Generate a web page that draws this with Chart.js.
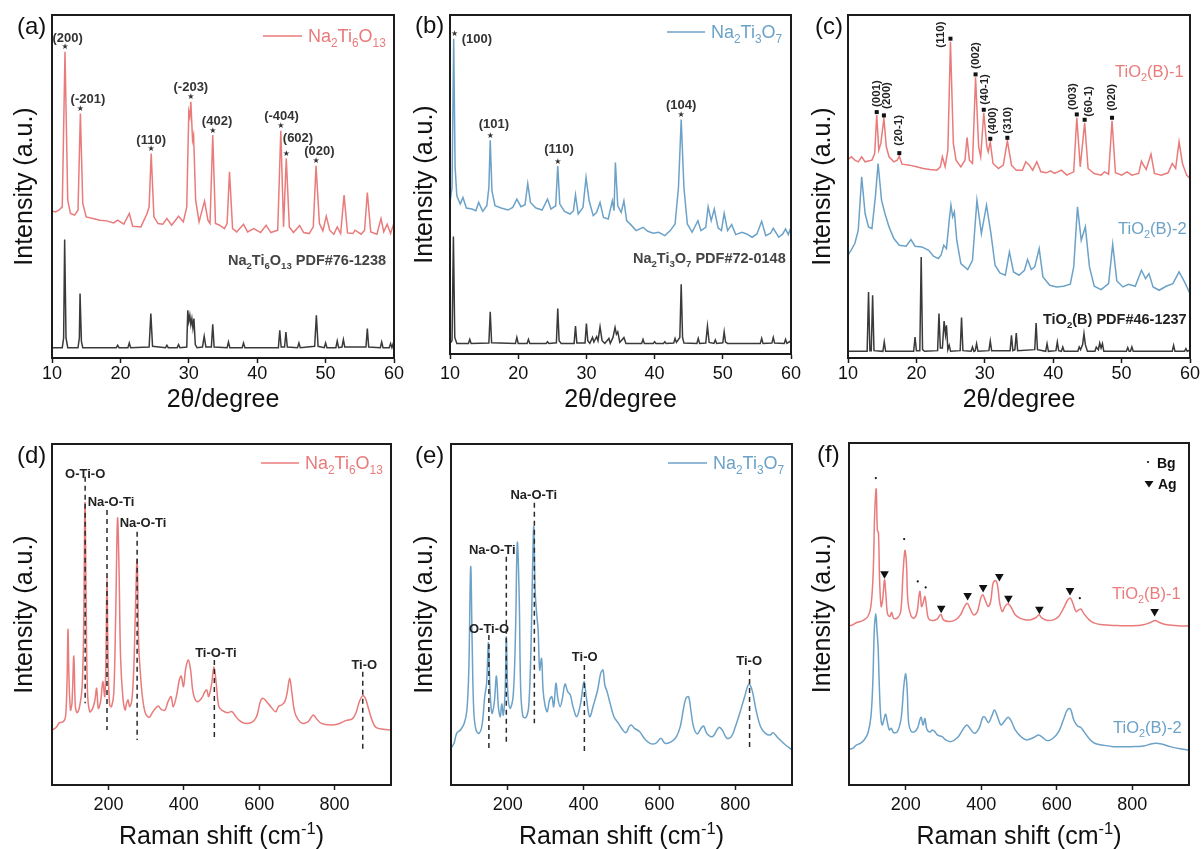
<!DOCTYPE html>
<html><head><meta charset="utf-8">
<script src="https://cdn.jsdelivr.net/npm/chart.js@4.4.1/dist/chart.umd.min.js"></script>
<style>
html,body{margin:0;padding:0;background:#fff;}
body{width:1201px;height:849px;position:relative;overflow:hidden;}
canvas{position:absolute;}
</style></head><body>
<canvas id="ca"></canvas><canvas id="cb"></canvas><canvas id="cc"></canvas>
<canvas id="cd"></canvas><canvas id="ce"></canvas><canvas id="cf"></canvas>
<script>
// ---------------- DATA ----------------
const xrdTicks = [10,20,30,40,50,60];
const ramanTicks = [200,400,600,800];

// (a) Na2Ti6O13 XRD
const xrdA_sample = [[10,441],[10.5,438],[11,443],[11.5,453],[11.9,918],[12.3,473],[12.7,433],[13.3,428],[13.8,443],[14.15,733],[14.5,463],[15,423],[16,418],[17,413],[18,411],[19,405],[19.6,413],[20.5,401],[21.3,433],[21.8,395],[23,393],[23.9,433],[24.2,453],[24.5,613],[24.9,423],[25.5,403],[26.2,401],[26.8,418],[27.5,398],[28.5,425],[29.2,408],[29.7,453],[30,738],[30.15,723],[30.3,768],[30.55,653],[30.7,668],[31,473],[31.5,408],[32.3,470],[32.8,413],[33.1,403],[33.5,668],[33.9,403],[34.5,398],[35.2,388],[35.6,403],[35.95,558],[36.4,388],[37,378],[38,401],[38.6,378],[39.5,388],[40.5,376],[41.3,398],[42,376],[43,383],[43.45,681],[43.85,393],[44.25,598],[44.7,393],[45.3,376],[46.2,397],[46.8,376],[47.6,373],[48.2,393],[48.6,576],[49.1,403],[49.6,381],[50.1,425],[50.6,383],[51.2,371],[51.7,393],[52.2,373],[52.7,488],[53.2,375],[54,373],[54.3,383],[55.2,371],[55.7,383],[56.1,496],[56.6,378],[57.5,371],[58.1,418],[58.5,378],[59,401],[59.5,373],[60,405]];
const xrdA_ref = [[10,31],[11.5,31],[11.7,60],[11.85,355],[12.05,60],[12.3,31],[13.8,31],[14,60],[14.1,193],[14.3,50],[14.5,31],[19.4,31],[19.6,38],[19.8,31],[21.1,31],[21.3,45],[21.5,31],[24.2,33],[24.45,133],[24.7,35],[26.6,31],[26.8,38],[27,31],[28.3,31],[28.5,40],[28.7,31],[29.7,33],[29.85,143],[30,110],[30.15,128],[30.3,100],[30.45,118],[30.6,90],[30.75,118],[30.95,40],[31.2,31],[32,33],[32.25,65],[32.5,33],[33.3,33],[33.5,101],[33.7,33],[35.6,31],[35.8,48],[36,31],[37.8,31],[38,45],[38.2,31],[43.1,31],[43.3,83],[43.5,33],[44,33],[44.2,78],[44.4,33],[45.9,31],[46.1,45],[46.3,31],[48.4,35],[48.65,128],[48.9,35],[49.8,31],[50,45],[50.2,31],[51.5,31],[51.7,51],[51.9,31],[52.4,33],[52.6,55],[52.8,33],[55.9,33],[56.1,88],[56.3,33],[58,31],[58.2,48],[58.4,31],[59.3,31],[59.5,43],[59.7,31],[60,51]];

// (b) Na2Ti3O7 XRD
const xrdB_sample = [[10,457],[10.3,502],[10.54,950],[10.75,562],[11,477],[11.5,452],[11.9,472],[12.4,440],[13.2,437],[13.8,432],[14.2,457],[14.8,430],[15.4,447],[15.7,502],[15.9,644],[16.15,492],[16.6,447],[17.5,440],[18.5,434],[19.2,442],[19.8,467],[20.4,444],[21,450],[21.4,514],[21.8,457],[22.6,440],[23.5,434],[24.3,467],[24.8,437],[25.5,447],[25.8,567],[26.1,452],[26.8,430],[27.6,422],[28.1,432],[28.4,480],[28.8,422],[29.5,442],[29.95,532],[30.4,462],[31,417],[31.5,427],[32,457],[32.5,412],[33.2,407],[33.8,462],[34.05,432],[34.25,577],[34.6,447],[35.1,427],[35.5,462],[35.9,402],[36.5,390],[37.3,372],[38.3,382],[39,370],[39.8,364],[40.6,367],[41.5,357],[42.3,372],[43,392],[43.5,502],[43.9,707],[44.3,502],[44.8,392],[45.5,367],[46.35,402],[46.8,372],[47.5,382],[47.85,444],[48.3,402],[48.75,437],[49.3,380],[49.8,372],[50.2,424],[50.7,372],[51.3,390],[51.9,360],[52.8,367],[53.5,362],[54.3,352],[55,362],[55.7,400],[56.3,357],[57,364],[57.4,379],[58.2,352],[58.8,362],[59.2,377],[59.6,360],[60,382]];
const xrdB_ref = [[10,32],[10.3,40],[10.5,354],[10.7,50],[11,32],[12.7,32],[12.9,44],[13.1,32],[15.7,33],[15.9,127],[16.1,34],[19.6,32],[19.8,50],[20,32],[21.3,32],[21.5,44],[21.7,32],[24.1,32],[24.3,37],[24.5,32],[25.6,34],[25.8,137],[26,40],[26.3,32],[28.2,32],[28.4,84],[28.6,33],[29.8,33],[30,92],[30.2,40],[30.5,32],[30.9,50],[31.1,36],[31.5,52],[31.7,40],[32,82],[32.3,40],[32.7,32],[33.3,47],[33.5,32],[33.9,50],[34.2,80],[34.4,60],[34.6,67],[34.9,35],[35.5,50],[35.8,32],[38.1,32],[38.3,44],[38.5,32],[39.8,32],[40,37],[40.2,32],[41.3,32],[41.5,37],[41.7,32],[42.8,33],[43,47],[43.2,35],[43.7,50],[43.9,210],[44.1,50],[44.3,33],[46.2,32],[46.4,47],[46.6,32],[47.5,33],[47.75,84],[48,35],[48.7,32],[48.9,42],[49.1,32],[50,34],[50.2,67],[50.4,36],[50.7,32],[55.5,32],[55.7,47],[55.9,32],[57.2,33],[57.4,50],[57.6,33],[59,32],[59.2,44],[59.4,32],[60,40]];

// (c) TiO2(B) XRD
const xrdC_s1 = [[10,595],[10.5,603],[11,593],[11.5,588],[12,603],[12.5,588],[13.5,593],[13.9,613],[14.2,728],[14.5,623],[14.8,643],[15.25,718],[15.6,633],[16,603],[16.7,588],[17.2,593],[17.5,605],[17.9,581],[19,578],[20,573],[21,568],[22,565],[23,563],[23.5,573],[23.8,603],[24.2,573],[24.6,623],[24.98,948],[25.4,643],[25.8,593],[26.5,573],[27.1,593],[27.4,661],[27.75,593],[28.2,583],[28.65,841],[29.1,633],[29.4,603],[29.85,735],[30.3,633],[30.5,618],[30.8,648],[31.2,583],[32,568],[32.7,578],[33.3,651],[33.9,578],[34.6,563],[35.5,563],[36,588],[36.5,578],[37,563],[37.6,588],[38.2,558],[39,555],[39.6,561],[40.2,553],[41.2,563],[42,548],[43,558],[43.45,721],[43.95,573],[44.6,705],[45.1,568],[46,553],[47,548],[47.5,558],[48.1,551],[48.6,711],[49.1,555],[50,548],[50.8,558],[51.5,548],[52.5,553],[52.9,590],[53.2,578],[53.6,565],[54.3,611],[54.8,553],[55.8,548],[56.8,555],[57.4,583],[57.9,568],[58.4,648],[58.9,583],[59.5,548],[60,538]];
const xrdC_s2 = [[10,308],[10.5,325],[11,343],[11.5,383],[12,543],[12.5,433],[13,393],[13.5,388],[14,483],[14.4,583],[14.9,473],[15.4,433],[16,393],[16.7,358],[17.5,338],[18.5,335],[19.2,355],[19.8,335],[20.8,333],[21.8,323],[22.5,305],[23.2,298],[23.6,308],[24,338],[24.4,328],[24.8,413],[25.05,458],[25.3,423],[25.55,438],[25.9,353],[26.5,283],[27.5,265],[28.2,293],[28.85,473],[29.5,373],[30.25,458],[30.9,373],[31.5,278],[32.2,255],[33,248],[33.6,318],[34.2,258],[35,248],[35.8,263],[36.25,295],[36.8,265],[37.3,273],[37.95,328],[38.5,243],[39.5,218],[40.5,213],[41.5,215],[42.5,221],[43,273],[43.55,453],[44.1,353],[44.7,393],[45.3,273],[46,215],[47,205],[48.1,223],[48.7,341],[49.3,231],[50.2,213],[51,221],[52,215],[52.9,263],[53.5,238],[54,253],[54.6,213],[55.5,203],[56.5,215],[57.5,223],[58.4,258],[59.2,228],[60,193]];
const xrdC_ref = [[10,20],[12.8,20],[13,198],[13.2,22],[13.4,22],[13.6,188],[13.8,22],[15.1,20],[15.3,48],[15.5,20],[19.6,20],[19.8,63],[20,22],[20.5,22],[20.7,303],[20.9,25],[21.2,20],[23.1,22],[23.3,133],[23.5,30],[23.8,30],[24.05,111],[24.25,70],[24.4,98],[24.6,25],[24.8,38],[25,20],[26.4,22],[26.6,121],[26.8,22],[28,20],[28.2,33],[28.4,20],[28.6,22],[28.8,43],[29,20],[30.6,22],[30.8,51],[31,22],[33.7,22],[33.9,68],[34.1,22],[34.4,25],[34.6,75],[34.8,22],[37.3,25],[37.5,105],[37.7,25],[38.9,20],[39.1,43],[39.3,20],[40.4,22],[40.6,48],[40.8,22],[41.2,20],[41.4,33],[41.6,20],[43.6,20],[43.8,33],[44,25],[44.3,40],[44.5,73],[44.7,40],[45,20],[46.1,20],[46.3,33],[46.6,25],[46.8,45],[47,30],[47.2,43],[47.4,20],[50.7,20],[50.9,31],[51.1,20],[51.3,20],[51.5,33],[51.7,20],[57.4,20],[57.6,38],[57.8,20],[59.2,20],[59.4,28],[59.6,20],[60,23]];

// (d) Na2Ti6O13 Raman
const ramanD = [[50,165],[60,172],[70,187],[80,190],[86,205],[90,315],[92.5,467],[95,325],[99,225],[103,245],[108,387],[112,235],[117,217],[124,240],[130,295],[134,465],[137.6,847],[140.5,565],[144,285],[150,220],[158,230],[164,255],[168.5,290],[173,230],[179,250],[185,310],[190,265],[193,365],[196,625],[199,365],[203,240],[208,235],[214,275],[219,505],[224,800],[228,645],[232,385],[238,265],[244,225],[248,245],[252,255],[256,235],[262,255],[267,345],[271,505],[276,677],[280,425],[284,345],[290,265],[298,215],[308,203],[318,220],[325,230],[332,237],[340,227],[350,225],[358,250],[366,265],[372,235],[381,270],[388,315],[393,327],[399,295],[405,350],[412,375],[418,345],[425,275],[435,250],[447,260],[456,280],[461,285],[466,265],[474,305],[480,355],[486,305],[493,235],[503,223],[515,217],[528,220],[535,210],[548,193],[562,185],[580,188],[593,205],[603,250],[610,260],[620,250],[632,233],[644,220],[652,237],[660,240],[668,250],[674,275],[681,320],[687,275],[694,220],[703,197],[715,185],[730,190],[738,203],[744,210],[752,199],[765,185],[790,180],[810,183],[830,193],[848,199],[858,220],[866,250],[875,268],[882,260],[890,230],[900,193],[910,173],[930,167],[950,165]];

// (e) Na2Ti3O7 Raman
const ramanE = [[50,110],[58,125],[65,155],[75,165],[85,185],[92,225],[97,345],[102,655],[106,415],[110,225],[116,165],[124,155],[132,180],[139,265],[144,305],[148.7,427],[153,285],[158,215],[164,245],[170,327],[175,235],[180,205],[184,243],[188,210],[193,285],[196,445],[200,275],[206,230],[214,265],[220,445],[225,727],[230,565],[234,285],[240,205],[248,203],[255,235],[261,405],[265,635],[268.5,775],[272,585],[276,515],[280,465],[284,345],[289,380],[293,285],[298,240],[304,220],[310,255],[316,265],[321,235],[327,305],[332,260],[338,235],[344,260],[351,303],[358,280],[365,270],[372,235],[382,205],[392,245],[401,310],[407,265],[416,205],[426,240],[437,285],[445,335],[451,345],[456,300],[462,280],[470,245],[480,205],[492,185],[502,167],[512,157],[520,175],[526,180],[534,170],[548,160],[560,140],[575,125],[590,125],[604,140],[615,125],[632,130],[645,145],[655,175],[663,225],[670,260],[677,265],[683,225],[690,175],[700,153],[710,170],[717,177],[725,155],[740,145],[757,173],[766,165],[778,140],[790,145],[800,173],[812,215],[825,265],[836,303],[845,283],[855,225],[867,175],[880,155],[892,150],[900,157],[914,140],[930,123],[950,105]];

// (f) TiO2(B) Raman
const ramanF_s1 = [[50,477],[60,480],[70,487],[80,490],[90,495],[100,505],[108,535],[114,635],[118,815],[122,887],[125,765],[128,755],[131,615],[135,535],[139,555],[144,615],[148,565],[152,513],[158,505],[163,517],[168,500],[178,500],[187,520],[193,635],[198,703],[202,665],[206,550],[214,507],[222,500],[230,517],[235,565],[238,580],[242,535],[246,545],[251,565],[255,535],[260,500],[270,493],[283,497],[293,512],[300,495],[315,490],[332,495],[345,510],[355,533],[363,545],[370,530],[380,510],[390,520],[398,557],[404,570],[411,553],[418,535],[425,550],[431,603],[437,613],[443,600],[449,545],[456,520],[463,535],[471,543],[479,533],[490,510],[502,500],[516,495],[531,495],[545,502],[553,510],[561,500],[576,493],[591,495],[605,505],[618,530],[628,553],[636,560],[643,543],[651,520],[658,525],[664,527],[672,513],[686,495],[700,485],[720,480],[760,478],[800,477],[830,480],[848,487],[860,493],[872,487],[892,480],[920,477],[950,477]];
const ramanF_s2 = [[50,107],[60,110],[70,120],[80,125],[90,135],[100,155],[108,205],[113,305],[117,465],[121,513],[124,465],[127,415],[130,305],[134,205],[138,180],[142,195],[147,212],[152,185],[157,165],[162,170],[168,157],[178,160],[188,200],[195,295],[200,333],[204,285],[208,185],[215,160],[224,160],[232,172],[237,193],[241,203],[246,180],[251,199],[256,167],[264,159],[271,165],[277,160],[284,150],[291,147],[297,145],[306,135],[320,130],[338,143],[352,167],[362,180],[370,170],[382,155],[395,172],[404,203],[410,203],[419,187],[428,207],[435,225],[443,205],[452,180],[461,190],[471,203],[479,193],[490,165],[505,145],[520,135],[540,143],[552,150],[562,143],[575,133],[590,140],[605,160],[618,197],[628,225],[636,228],[645,195],[655,177],[663,173],[672,160],[685,140],[700,125],[720,120],[750,115],[800,115],[830,117],[850,123],[862,125],[880,122],[900,115],[930,108],[950,105]];
const ramanF_Bg = [[121,920],[196,737],[232,610],[253,592],[661,560]];
const ramanF_Ag = [[144,633],[294,530],[364,568],[405,592],[448,625],[472,560],[554,527],[635,583],[859,520]];

// peak labels
const xrdA_hkl = [[11.9,'(200)',2.7,-13.5],[14.15,'(-201)',7.5,-14],[24.5,'(110)',0,-13.5],[30.3,'(-203)',0,-14],[33.5,'(402)',4.3,-13.5],[43.45,'(-404)',0.7,-14],[44.25,'(602)',11.7,-20],[48.6,'(020)',3.3,-14]];
const xrdB_hkl = [[15.9,'(101)',3.7,-16],[25.8,'(110)',1.3,-16.5],[43.9,'(104)',0,-14]];
const xrdC_hkl = [[14.2,'(001)',0,-5],[15.25,'(200)',3,-6.5],[17.5,'(20-1)',0,-7.5],[24.98,'(110)',-10,9],[28.65,'(002)',0,-5.5],[29.85,'(40-1)',1,-5],[30.8,'(400)',3,-4.5],[33.3,'(310)',0,-4],[43.45,'(003)',-4,-4.5],[44.6,'(60-1)',4,-3],[48.6,'(020)',0,-7]];
const ramanD_bands = [[138,925,245,'O-Ti-O',138,932,'center'],[196,825,165,'Na-O-Ti',144.7,847,'left'],[276,760,135,'Na-O-Ti',229.6,785,'left'],[481,375,140,'Ti-O-Ti',485,395,'center'],[875,340,105,'Ti-O',879,358,'center']];
const ramanE_bands = [[150,450,110,'O-Ti-O',150.4,467,'center'],[196,685,120,'Na-O-Ti',159,705,'center'],[270,847,185,'Na-O-Ti',268.6,868,'center'],[402,360,100,'Ti-O',403,382,'center'],[838,345,105,'Ti-O',837,372,'center']];

// ---------------- DRAWING ----------------
const RED='#e97b7b', BLUE='#6ca2c8', BLACK='#3a3a3a', AX='#1c1c1c';
const FAM='"Liberation Sans", Arial, Helvetica, sans-serif';
Chart.defaults.font.family = FAM;

function rich(ctx, str, x, y, size, weight, color, align){
  const parts=[]; const re=/([_^])\{([^}]*)\}|([^_^]+)/g; let m;
  while((m=re.exec(str))){ if(m[3]) parts.push({t:m[3],k:0}); else parts.push({t:m[2],k:m[1]==='_'?1:2}); }
  const f=k=>`${weight} ${k?size*0.66:size}px ${FAM}`;
  let w=0; parts.forEach(p=>{ctx.font=f(p.k); p.w=ctx.measureText(p.t).width; w+=p.w;});
  let cx = align==='center'? x-w/2 : align==='right'? x-w : x;
  const base=y+size*0.36;
  ctx.fillStyle=color; ctx.textAlign='left'; ctx.textBaseline='alphabetic';
  parts.forEach(p=>{ctx.font=f(p.k); const dy=p.k===1?size*0.24:p.k===2?-size*0.42:0; ctx.fillText(p.t,cx,base+dy); cx+=p.w;});
  return w;
}
function peakY(arr,x,w){ let best=-1e9; arr.forEach(p=>{ if(Math.abs(p[0]-x)<=w && p[1]>best) best=p[1]; }); return best; }
const pts = a => a.map(p=>({x:p[0],y:p[1]}));
function lineDS(arr,color,width){ return {type:'line',data:pts(arr),borderColor:color,borderWidth:width||1.5,pointRadius:0,fill:false,tension:0,order:2}; }

function makePanel(o){
  const cv=document.getElementById(o.id);
  const [cx,cy,cw,ch]=o.canvas; const [l,t,r,b]=o.plot;
  cv.width=cw; cv.height=ch; cv.style.left=cx+'px'; cv.style.top=cy+'px'; cv.style.width=cw+'px'; cv.style.height=ch+'px';
  const AXH=30;
  new Chart(cv.getContext('2d'),{
    type:'line',
    data:{datasets:o.datasets},
    options:{
      responsive:false, animation:false, devicePixelRatio:1, events:[],
      layout:{padding:{left:l-cx,top:t-cy,right:(cx+cw)-r,bottom:(cy+ch)-b-AXH}},
      plugins:{legend:{display:false},tooltip:{enabled:false}},
      scales:{
        x:{type:'linear',min:o.xmin,max:o.xmax,
           afterBuildTicks:s=>{s.ticks=o.ticks.map(v=>({value:v}));},
           afterFit:s=>{s.height=AXH;},
           grid:{display:true,drawOnChartArea:false,drawTicks:true,tickLength:5,tickColor:AX,tickWidth:1.5,color:AX},
           border:{display:true,color:AX,width:2},
           ticks:{padding:o.tickPad,color:'#111',font:{size:18,family:FAM},maxRotation:0,autoSkip:false}},
        y:{type:'linear',min:0,max:o.ymax,display:false}
      }
    },
    plugins:[{id:'deco',
      afterDatasetsDraw(chart){
        const ctx=chart.ctx, X=v=>chart.scales.x.getPixelForValue(v), Y=v=>chart.scales.y.getPixelForValue(v);
        ctx.save(); if(o.overlay) o.overlay(ctx,X,Y,chart); ctx.restore();
      },
      afterDraw(chart){
        const ctx=chart.ctx, a=chart.chartArea;
        ctx.save();
        ctx.strokeStyle=AX; ctx.lineWidth=2; ctx.strokeRect(a.left,a.top,a.right-a.left,a.bottom-a.top);
        ctx.fillStyle='#111'; ctx.font=`24px ${FAM}`; ctx.textBaseline='middle'; ctx.textAlign='left';
        ctx.fillText(o.letter,o.letterPos[0],o.letterPos[1]);
        rich(ctx,o.xTitle,(a.left+a.right)/2,o.xTitleY,25,'normal','#111','center');
        ctx.translate(o.yTitleX,(a.top+a.bottom)/2); ctx.rotate(-Math.PI/2);
        rich(ctx,'Intensity (a.u.)',0,0,25,'normal','#111','center');
        ctx.restore();
        ctx.save(); if(o.texts) o.texts(ctx); ctx.restore();
      }}]
  });
}
function legendLine(ctx,x1,x2,y,color,label){
  ctx.strokeStyle=color; ctx.lineWidth=1.5; ctx.beginPath(); ctx.moveTo(x1,y); ctx.lineTo(x2,y); ctx.stroke();
  rich(ctx,label,x2+6,y,18,'normal',color,'left');
}
function starLabels(ctx,X,Y,arr,lab){
  lab.forEach(([x,txt,dx,dy])=>{
    const px=X(x), py=Y(peakY(arr,x,0.3));
    ctx.fillStyle='#333'; ctx.font=`8px "DejaVu Sans", sans-serif`; ctx.textAlign='center'; ctx.textBaseline='middle';
    ctx.fillText('★',px,py-4.5);
    ctx.font=`bold 13px ${FAM}`; ctx.fillText(txt,px+dx,py+dy);
  });
}
function bands(ctx,X,Y,list){
  list.forEach(([x,y1,y2,txt,lx,ly,al])=>{
    ctx.strokeStyle='#2a2a2a'; ctx.lineWidth=1.5; ctx.setLineDash([5,4]);
    ctx.beginPath(); ctx.moveTo(X(x),Y(y1)); ctx.lineTo(X(x),Y(y2)); ctx.stroke(); ctx.setLineDash([]);
    ctx.fillStyle='#222'; ctx.font=`bold 13px ${FAM}`; ctx.textAlign=al; ctx.textBaseline='middle';
    ctx.fillText(txt,X(lx),Y(ly));
  });
}

// (a)
makePanel({id:'ca',canvas:[0,0,418,430],plot:[52,15,394,358],xmin:10,xmax:60,ticks:xrdTicks,ymax:1028,tickPad:0,
  letter:'(a)',letterPos:[17,27],xTitle:'2θ/degree',xTitleY:398,yTitleX:23,
  datasets:[lineDS(xrdA_sample,RED),lineDS(xrdA_ref,BLACK)],
  overlay:(ctx,X,Y)=>{ starLabels(ctx,X,Y,xrdA_sample,xrdA_hkl); },
  texts:ctx=>{ legendLine(ctx,263,302,36,RED,'Na_{2}Ti_{6}O_{13}'); rich(ctx,'Na_{2}Ti_{6}O_{13} PDF#76-1238',228,260,14.5,'bold','#444','left'); }
});
// (b)
makePanel({id:'cb',canvas:[400,0,418,430],plot:[450,15,791,354],xmin:10,xmax:60,ticks:xrdTicks,ymax:1022,tickPad:4,
  letter:'(b)',letterPos:[15,26],xTitle:'2θ/degree',xTitleY:398,yTitleX:23,
  datasets:[lineDS(xrdB_sample,BLUE),lineDS(xrdB_ref,BLACK)],
  overlay:(ctx,X,Y)=>{
    starLabels(ctx,X,Y,xrdB_sample,xrdB_hkl);
    const px=X(10.54), py=Y(peakY(xrdB_sample,10.54,0.2));
    ctx.fillStyle='#333'; ctx.font=`8px "DejaVu Sans", sans-serif`; ctx.textAlign='center'; ctx.textBaseline='middle';
    ctx.fillText('★',px+1,py-5);
    ctx.font=`bold 13px ${FAM}`; ctx.textAlign='left'; ctx.fillText('(100)',px+8,py+1);
  },
  texts:ctx=>{ legendLine(ctx,267,305,32,BLUE,'Na_{2}Ti_{3}O_{7}'); rich(ctx,'Na_{2}Ti_{3}O_{7} PDF#72-0148',233,258,14.5,'bold','#444','left'); }
});
// (c)
makePanel({id:'cc',canvas:[800,0,401,430],plot:[848,15,1190,358],xmin:10,xmax:60,ticks:xrdTicks,ymax:1028,tickPad:0,
  letter:'(c)',letterPos:[15,27],xTitle:'2θ/degree',xTitleY:398,yTitleX:21,
  datasets:[lineDS(xrdC_s1,RED),lineDS(xrdC_s2,BLUE),lineDS(xrdC_ref,BLACK)],
  overlay:(ctx,X,Y)=>{
    xrdC_hkl.forEach(([x,txt,dx,dy])=>{
      const px=X(x), py=Y(peakY(xrdC_s1,x,0.3))-3;
      ctx.fillStyle='#111'; ctx.fillRect(px-2,py-2,4,4);
      ctx.save(); ctx.translate(px+dx,py+dy); ctx.rotate(-Math.PI/2);
      ctx.font=`bold 11.5px ${FAM}`; ctx.textAlign='left'; ctx.textBaseline='middle'; ctx.fillStyle='#222';
      ctx.fillText(txt,0,0); ctx.restore();
    });
  },
  texts:ctx=>{
    rich(ctx,'TiO_{2}(B)-1',315,71,16.5,'normal',RED,'left');
    rich(ctx,'TiO_{2}(B)-2',318,228,16.5,'normal',BLUE,'left');
    rich(ctx,'TiO_{2}(B) PDF#46-1237',243,319,14.5,'bold','#222','left');
  }
});
// (d)
makePanel({id:'cd',canvas:[0,430,418,419],plot:[52,444,391,785],xmin:50,xmax:950,ticks:ramanTicks,ymax:1023,tickPad:4,
  letter:'(d)',letterPos:[17,26],xTitle:'Raman shift (cm^{-1})',xTitleY:405,yTitleX:23,
  datasets:[Object.assign(lineDS(ramanD,RED),{tension:0.35})],
  overlay:(ctx,X,Y)=>{ bands(ctx,X,Y,ramanD_bands); },
  texts:ctx=>{ legendLine(ctx,261,299,33,RED,'Na_{2}Ti_{6}O_{13}'); }
});
// (e)
makePanel({id:'ce',canvas:[400,430,418,419],plot:[451,444,792,785],xmin:50,xmax:950,ticks:ramanTicks,ymax:1023,tickPad:4,
  letter:'(e)',letterPos:[15,26],xTitle:'Raman shift (cm^{-1})',xTitleY:405,yTitleX:23,
  datasets:[Object.assign(lineDS(ramanE,BLUE),{tension:0.35})],
  overlay:(ctx,X,Y)=>{ bands(ctx,X,Y,ramanE_bands); },
  texts:ctx=>{ legendLine(ctx,268,307,33,BLUE,'Na_{2}Ti_{3}O_{7}'); }
});
// (f)
makePanel({id:'cf',canvas:[800,430,401,419],plot:[849,443,1189,785],xmin:50,xmax:950,ticks:ramanTicks,ymax:1025,tickPad:4,
  letter:'(f)',letterPos:[17,25],xTitle:'Raman shift (cm^{-1})',xTitleY:405,yTitleX:21,
  datasets:[Object.assign(lineDS(ramanF_s1,RED),{tension:0.35}),Object.assign(lineDS(ramanF_s2,BLUE),{tension:0.35}),
    {type:'scatter',data:pts(ramanF_Bg),pointStyle:'circle',pointRadius:1.1,backgroundColor:'#111',borderWidth:0,showLine:false,order:0},
    {type:'scatter',data:pts(ramanF_Ag),pointStyle:'triangle',pointRotation:180,pointRadius:5,backgroundColor:'#111',borderColor:'#111',borderWidth:0,showLine:false,order:0}],
  texts:ctx=>{
    rich(ctx,'TiO_{2}(B)-1',312,163,16.5,'normal',RED,'left');
    rich(ctx,'TiO_{2}(B)-2',313,297,16.5,'normal',BLUE,'left');
    ctx.fillStyle='#111'; ctx.beginPath(); ctx.arc(348,32,1.1,0,Math.PI*2); ctx.fill();
    ctx.beginPath(); ctx.moveTo(344.5,51); ctx.lineTo(353.5,51); ctx.lineTo(349,57.5); ctx.closePath(); ctx.fill();
    rich(ctx,'Bg',357,33,14,'bold','#111','left');
    rich(ctx,'Ag',358,54,14,'bold','#111','left');
  }
});
</script>
</body></html>
